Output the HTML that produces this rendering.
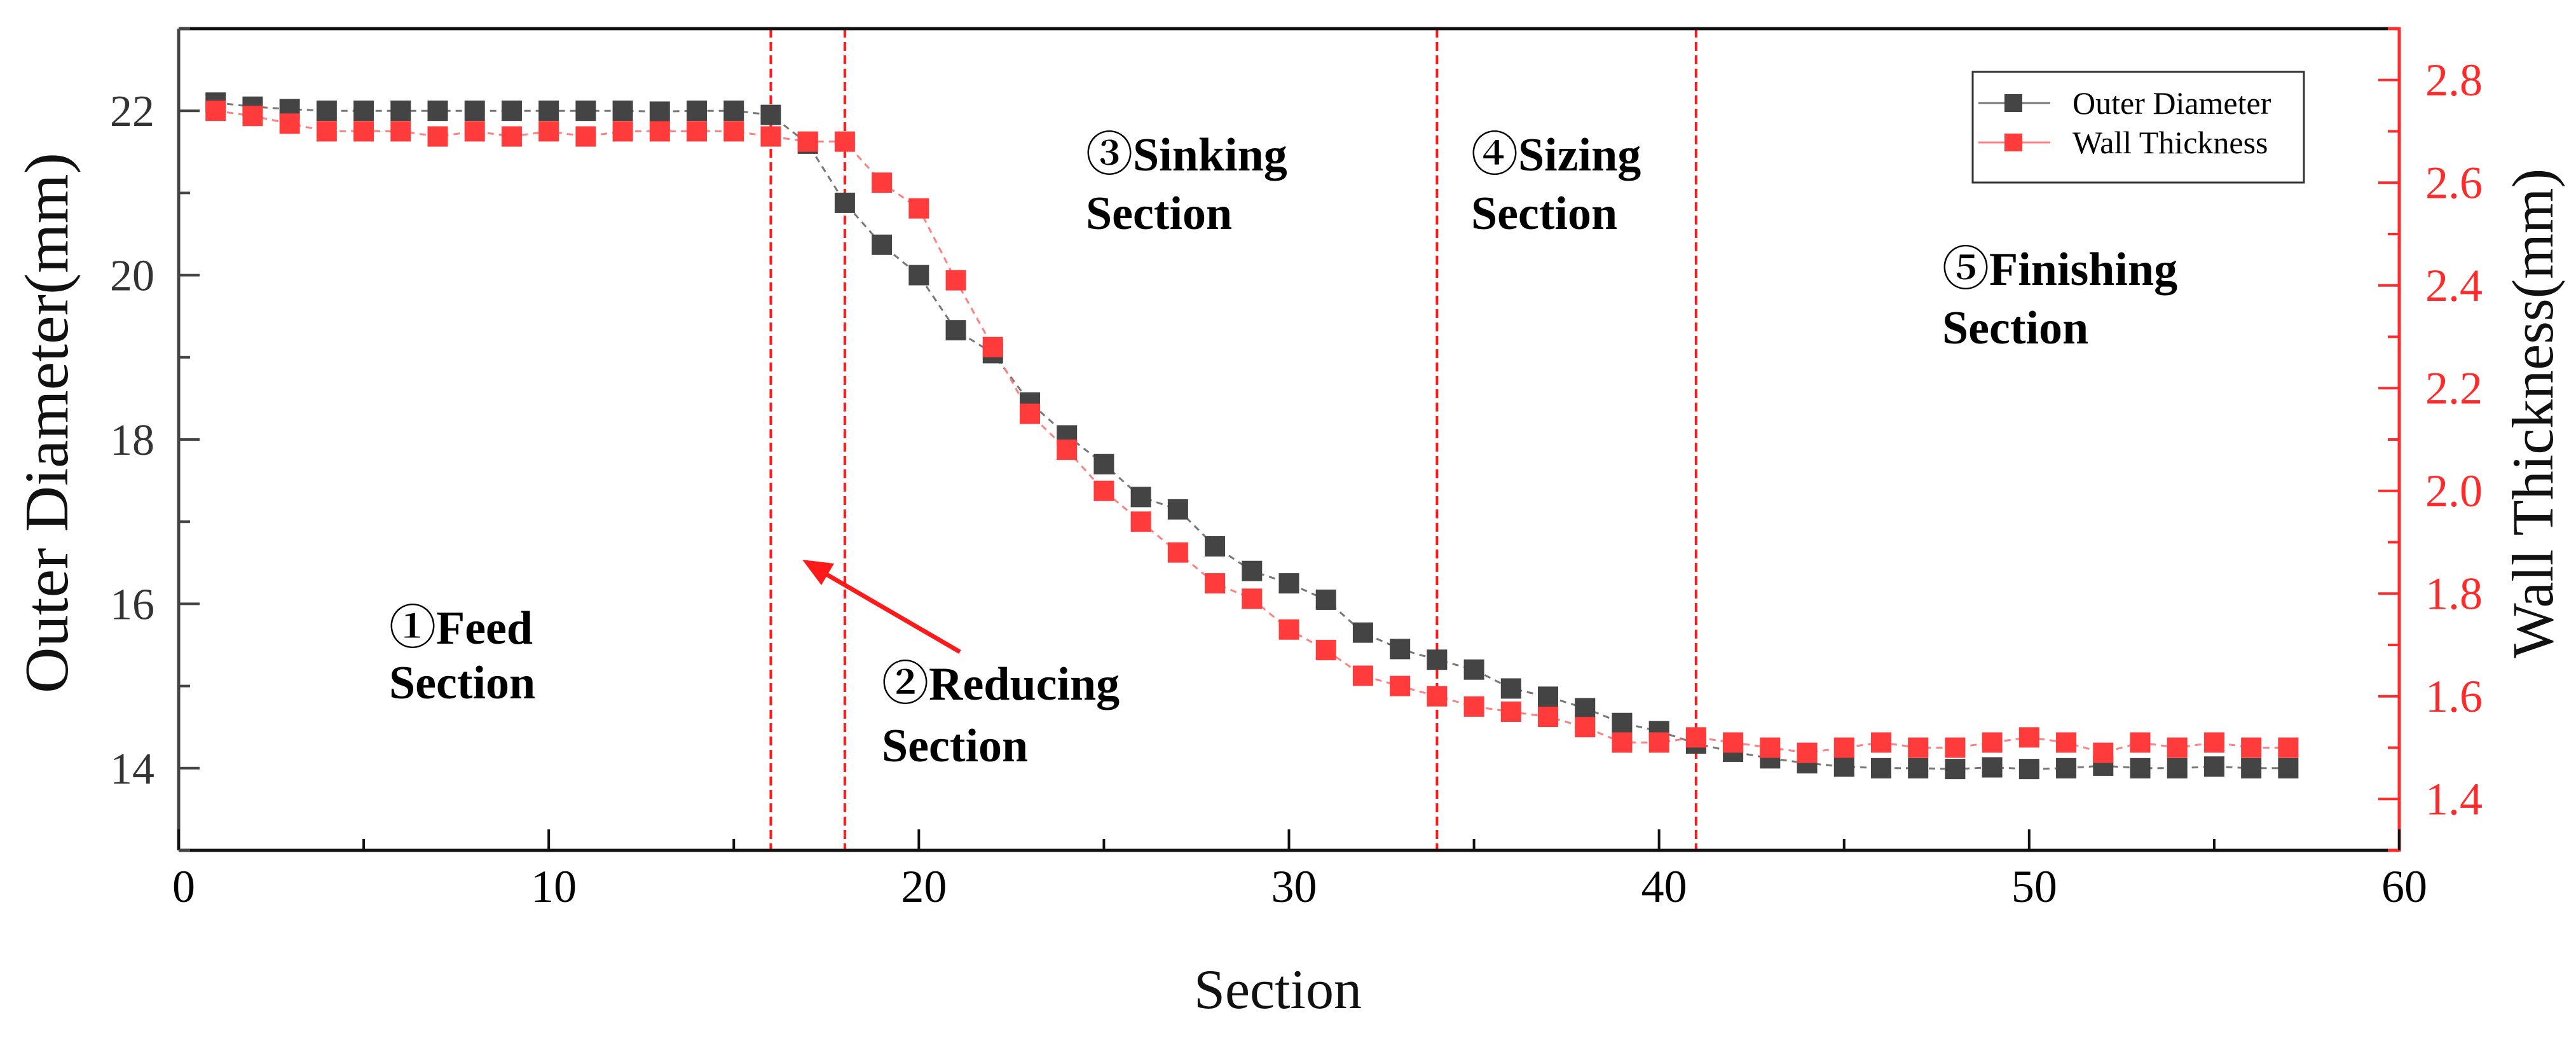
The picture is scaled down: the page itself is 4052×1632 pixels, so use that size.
<!DOCTYPE html>
<html><head><meta charset="utf-8">
<style>
html,body{margin:0;padding:0;background:#fff;}
svg{display:block;}
text{font-family:"Liberation Serif","Noto Serif CJK SC",serif;}
</style></head>
<body>
<svg id="chart" width="4052" height="1632" viewBox="0 0 4052 1632" xmlns="http://www.w3.org/2000/svg"></svg>
<script>
const sections = [1,2,3,4,5,6,7,8,9,10,11,12,13,14,15,16,17,18,19,20,21,22,23,24,25,26,27,28,29,30,31,32,33,34,35,36,37,38,39,40,41,42,43,44,45,46,47,48,49,50,51,52,53,54,55,56,57];
const outerDiameter = [22.1,22.05,22.02,22.0,22.0,22.0,22.0,22.0,22.0,22.0,22.0,22.0,21.99,22.0,22.0,21.95,21.6,20.88,20.37,20.0,19.33,19.05,18.45,18.05,17.7,17.3,17.15,16.7,16.4,16.25,16.05,15.65,15.45,15.32,15.2,14.97,14.87,14.73,14.55,14.45,14.3,14.2,14.12,14.06,14.02,14.0,14.0,13.99,14.01,13.99,14.0,14.03,14.0,14.0,14.02,14.0,14.0];
const wallThickness = [2.74,2.73,2.715,2.70,2.70,2.70,2.69,2.70,2.69,2.70,2.69,2.70,2.70,2.70,2.70,2.69,2.68,2.68,2.60,2.55,2.41,2.28,2.15,2.08,2.00,1.94,1.88,1.82,1.79,1.73,1.69,1.64,1.62,1.60,1.58,1.57,1.56,1.54,1.51,1.51,1.52,1.51,1.50,1.49,1.50,1.51,1.50,1.50,1.51,1.52,1.51,1.49,1.51,1.50,1.51,1.50,1.50];
const xTicks = [0,10,20,30,40,50,60];
const yLeftTicks = [14,16,18,20,22];
const yRightTicks = [1.4,1.6,1.8,2.0,2.2,2.4,2.6,2.8];
const dividers = [16,18,34,41];

const NS="http://www.w3.org/2000/svg";
const svg=document.getElementById('chart');
const L=281,R=3774,T=45,B=1337;
const X=v=>L+(v-0)/(60-0)*(R-L);
const YL=v=>B-(v-13)/(23-13)*(B-T);
const YR=v=>B-(v-1.3)/(2.9-1.3)*(B-T);
function el(tag,attrs,parent){const e=document.createElementNS(NS,tag);for(const k in attrs)e.setAttribute(k,attrs[k]);(parent||svg).appendChild(e);return e;}
function txt(s,attrs,parent){const e=el('text',attrs,parent);e.textContent=s;return e;}

dividers.forEach(d=>{
  const ln=el('line',{x1:X(d),x2:X(d),y1:T,y2:B,stroke:'#ff1a1a','stroke-width':4,'stroke-dasharray':'14,7'});
  
  
});

function path(vals,yf,color,name){
  const d=vals.map((v,i)=>(i?'L':'M')+X(sections[i])+' '+yf(v)).join(' ');
  const p=el('path',{d:d,fill:'none',stroke:color,'stroke-width':3,'stroke-dasharray':'10,8'});
  
  
}
path(outerDiameter,YL,'#777','outer-diameter-line');
path(wallThickness,YR,'#ff8080','wall-thickness-line');
const S=32;
outerDiameter.forEach((v,i)=>{
  const r=el('rect',{x:X(sections[i])-S/2,y:YL(v)-S/2,width:S,height:S,fill:'#444'});
  
  
});
wallThickness.forEach((v,i)=>{
  const r=el('rect',{x:X(sections[i])-S/2,y:YR(v)-S/2,width:S,height:S,fill:'#ff3b3b'});
  
  
});

const ax=el('g',{});


el('line',{x1:L,x2:R,y1:T,y2:T,stroke:'#111','stroke-width':5},ax);
el('line',{x1:L,x2:R,y1:B,y2:B,stroke:'#111','stroke-width':5},ax);
el('line',{x1:L,x2:L,y1:T,y2:B,stroke:'#444','stroke-width':5},ax);
el('line',{x1:R,x2:R,y1:T-2,y2:B+2,stroke:'#ff2a2a','stroke-width':5},ax);
el('line',{x1:R-18,x2:R,y1:T,y2:T,stroke:'#ff2a2a','stroke-width':5},ax);
el('line',{x1:R-18,x2:R,y1:B,y2:B,stroke:'#ff2a2a','stroke-width':5},ax);
for(let v=0;v<=60;v+=5){const major=v%10===0;el('line',{x1:X(v),x2:X(v),y1:B,y2:B-(major?33:18),stroke:'#111','stroke-width':4},ax);}
xTicks.forEach(v=>{const t=txt(String(v),{x:X(v)+8,y:1418,'font-size':72,'text-anchor':'middle',fill:'#000'});
  
  });
for(let v=13;v<=23;v+=1){const major=v%2===0;el('line',{x1:L,x2:L+(major?33:18),y1:YL(v),y2:YL(v),stroke:'#444','stroke-width':4},ax);}
yLeftTicks.forEach(v=>{const t=txt(String(v),{x:243,y:YL(v)+24,'font-size':70,'text-anchor':'end',fill:'#333'});
  
  });
for(let k=14;k<=28;k++){const v=k/10;const major=k%2===0;el('line',{x1:R,x2:R-(major?33:18),y1:YR(v),y2:YR(v),stroke:'#ff2a2a','stroke-width':4},ax);}
yRightTicks.forEach(v=>{const t=txt(v.toFixed(1),{x:3815,y:YR(v)+24,'font-size':72,'text-anchor':'start',fill:'#ff2a2a'});
  
  });

let t=txt('Section',{x:2010,y:1585,'font-size':88,'text-anchor':'middle',fill:'#111'});

t=txt('Outer Diameter(mm)',{x:0,y:0,'font-size':98,'text-anchor':'middle',fill:'#111',textLength:850,lengthAdjust:'spacingAndGlyphs',transform:'translate(106,665) rotate(-90)'});

t=txt('Wall Thickness(mm)',{x:0,y:0,'font-size':92,'text-anchor':'middle',fill:'#111',transform:'translate(4015,650) rotate(-90)'});


const ann=[['①Feed','Section',612,1012,1098,'feed-section-label'],
 ['②Reducing','Section',1387,1100,1197,'reducing-section-label'],
 ['③Sinking','Section',1708,268,360,'sinking-section-label'],
 ['④Sizing','Section',2314,268,360,'sizing-section-label'],
 ['⑤Finishing','Section',3055,448,540,'finishing-section-label']];
ann.forEach(a=>{
  const g=el('g',{'font-size':74,'font-weight':'bold',fill:'#000'});
  
  
  txt(a[0],{x:a[2],y:a[3]},g);
  txt(a[1],{x:a[2],y:a[4]},g);
});
const ar=el('g',{});


el('line',{x1:1510,y1:1025,x2:1300,y2:903,stroke:'#ff1a1a','stroke-width':7},ar);
el('polygon',{points:'1262,880 1312,886 1292,920',fill:'#ff1a1a'},ar);

const lg=el('g',{});


el('rect',{x:3103,y:113,width:521,height:174,fill:'#fff',stroke:'#333','stroke-width':3},lg);
[['Outer Diameter','#444','#777',162],['Wall Thickness','#ff3b3b','#ff8080',224]].forEach(e=>{
  const g=el('g',{},lg);
  
  
  el('line',{x1:3112,x2:3225,y1:e[3],y2:e[3],stroke:e[2],'stroke-width':3},g);
  el('rect',{x:3153,y:e[3]-14,width:28,height:28,fill:e[1]},g);
  txt(e[0],{x:3260,y:e[3]+17,'font-size':50,fill:'#000'},g);
});
</script>
</body></html>
